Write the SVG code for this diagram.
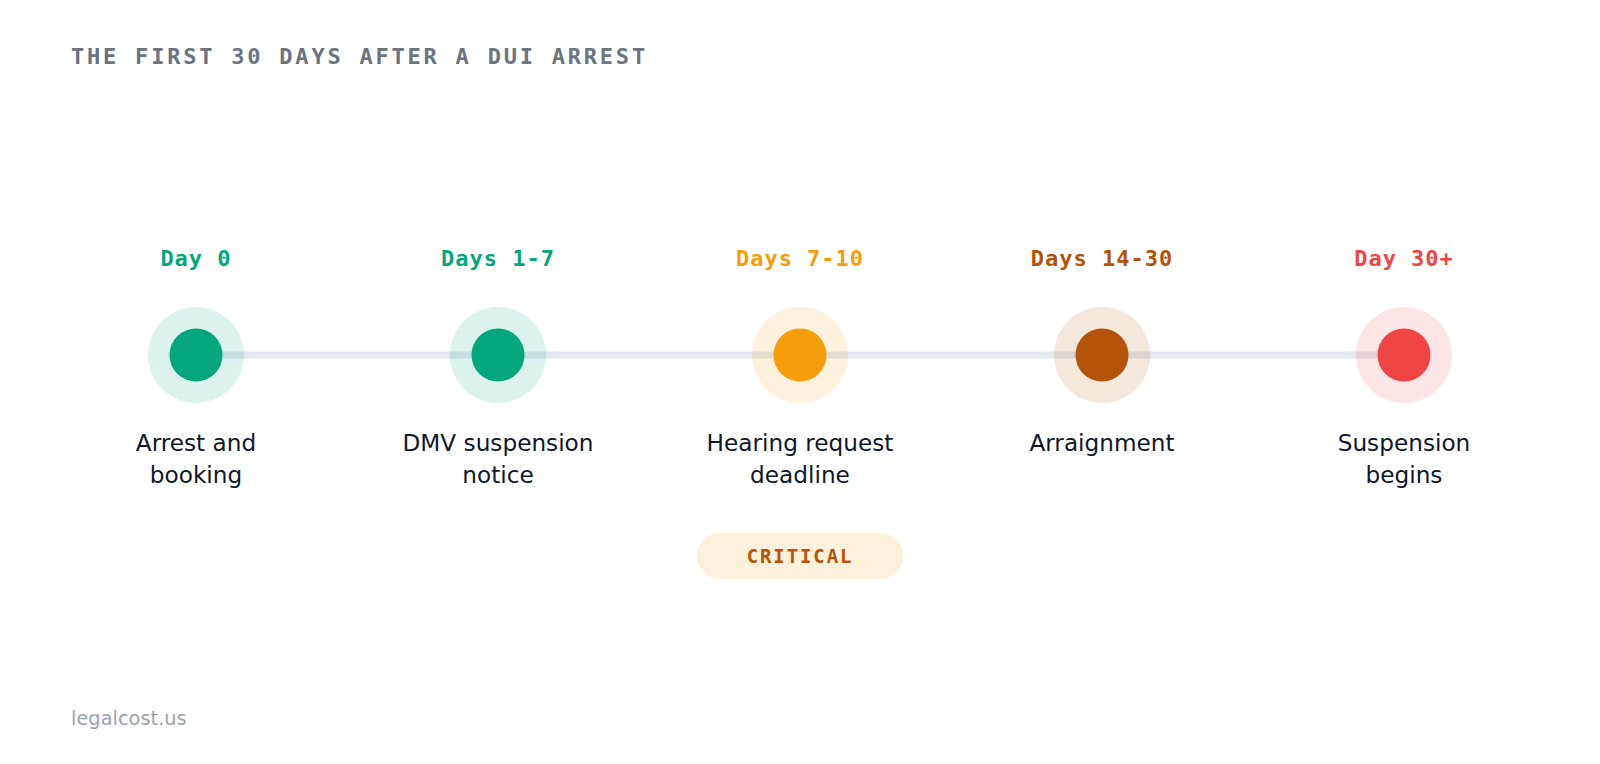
<svg xmlns="http://www.w3.org/2000/svg" width="1600" height="764" viewBox="0 0 1600 764">
<style>
.title{font-family:"DejaVu Sans Mono",monospace;font-weight:bold;font-size:22px;letter-spacing:2.78px;fill:#6b7280}
.day{font-family:"DejaVu Sans Mono",monospace;font-weight:bold;font-size:22px;letter-spacing:1px;text-anchor:middle}
.lbl{font-family:"DejaVu Sans",sans-serif;font-size:23.2px;fill:#0f172a;text-anchor:middle}
.foot{font-family:"DejaVu Sans",sans-serif;font-size:19.4px;fill:#9ca3af}
.crit{font-family:"DejaVu Sans Mono",monospace;font-weight:bold;font-size:19px;letter-spacing:1.9px;fill:#b45309;text-anchor:middle}
.halo{opacity:0.14}
</style>
<rect width="1600" height="764" fill="#ffffff"/>
<text class="title" x="71" y="64">THE FIRST 30 DAYS AFTER A DUI ARREST</text>
<g id="connectors">
<line x1="196" y1="355" x2="1404" y2="355" stroke="#e2e8f0" stroke-width="7"/>
</g>
<g id="node-day0">
<text class="day" x="196" y="266" fill="#04a67c">Day 0</text>
<circle class="halo" cx="196" cy="355" r="48" fill="#04a67c"/>
<circle cx="196" cy="355" r="26.5" fill="#04a67c"/>
<text class="lbl" x="196" y="451">Arrest and</text>
<text class="lbl" x="196" y="483">booking</text>
</g>
<g id="node-days1-7">
<text class="day" x="498" y="266" fill="#04a67c">Days 1-7</text>
<circle class="halo" cx="498" cy="355" r="48" fill="#04a67c"/>
<circle cx="498" cy="355" r="26.5" fill="#04a67c"/>
<text class="lbl" x="498" y="451">DMV suspension</text>
<text class="lbl" x="498" y="483">notice</text>
</g>
<g id="node-days7-10">
<text class="day" x="800" y="266" fill="#f59e0b">Days 7-10</text>
<circle class="halo" cx="800" cy="355" r="48" fill="#f59e0b"/>
<circle cx="800" cy="355" r="26.5" fill="#f59e0b"/>
<text class="lbl" x="800" y="451">Hearing request</text>
<text class="lbl" x="800" y="483">deadline</text>
<rect x="697" y="533" width="206" height="46" rx="23" fill="#f59e0b" opacity="0.15"/>
<text class="crit" x="800" y="563">CRITICAL</text>
</g>
<g id="node-days14-30">
<text class="day" x="1102" y="266" fill="#b45309">Days 14-30</text>
<circle class="halo" cx="1102" cy="355" r="48" fill="#b45309"/>
<circle cx="1102" cy="355" r="26.5" fill="#b45309"/>
<text class="lbl" x="1102" y="451">Arraignment</text>
</g>
<g id="node-day30">
<text class="day" x="1404" y="266" fill="#ef4444">Day 30+</text>
<circle class="halo" cx="1404" cy="355" r="48" fill="#ef4444"/>
<circle cx="1404" cy="355" r="26.5" fill="#ef4444"/>
<text class="lbl" x="1404" y="451">Suspension</text>
<text class="lbl" x="1404" y="483">begins</text>
</g>
<text class="foot" x="71" y="725">legalcost.us</text>
</svg>
